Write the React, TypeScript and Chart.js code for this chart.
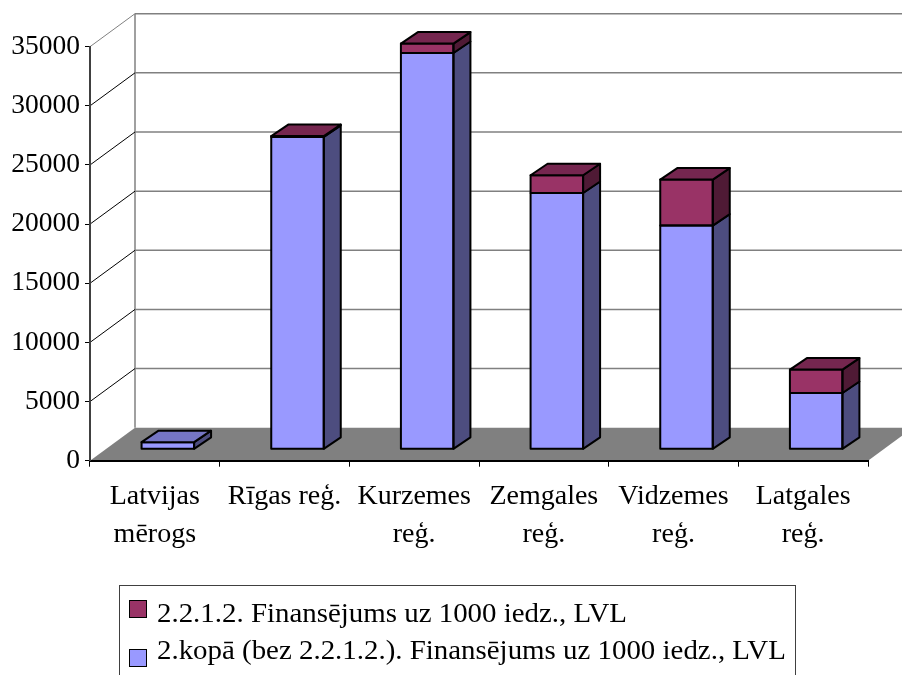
import React, { useEffect, useRef } from 'react';
import { Chart, registerables } from 'chart.js';
Chart.register(...registerables);

const categories: (string | string[])[] = [
  ['Latvijas', 'mērogs'],
  'Rīgas reģ.',
  ['Kurzemes', 'reģ.'],
  ['Zemgales', 'reģ.'],
  ['Vidzemes', 'reģ.'],
  ['Latgales', 'reģ.'],
];
const kopaValues = [600, 26400, 33500, 21670, 18910, 4760];
const finansValues = [0, 80, 800, 1500, 3890, 1980];
const yTicks = [0, 5000, 10000, 15000, 20000, 25000, 30000, 35000];
const finansLabel = '2.2.1.2. Finansējums uz 1000 iedz., LVL';
const kopaLabel = '2.kopā (bez 2.2.1.2.). Finansējums uz 1000 iedz., LVL';

const FONT = '"Liberation Serif", "Times New Roman", serif';
const KOPA_COL = { front: '#9999FF', side: '#4D4D7F', top: '#7575C4' };
const FIN_COL = { front: '#993366', side: '#4F1A35', top: '#75264F' };

const WALL_DX = 45;
const WALL_DY = -33;
const BAR_OFF_X = 13;
const BAR_OFF_Y = -11.4;
const BAR_DX = 17;
const BAR_DY = -11.5;

const threeD = {
  id: 'threeD',
  beforeDraw(chart: any) {
    const { ctx, chartArea: ca } = chart;
    const y = chart.scales.y;
    const y0 = y.getPixelForValue(0);
    const yTop = y.getPixelForValue(yTicks[yTicks.length - 1]);
    ctx.save();
    ctx.fillStyle = '#808080';
    ctx.beginPath();
    ctx.moveTo(ca.left, y0);
    ctx.lineTo(ca.right, y0);
    ctx.lineTo(ca.right + WALL_DX, y0 + WALL_DY);
    ctx.lineTo(ca.left + WALL_DX, y0 + WALL_DY);
    ctx.closePath();
    ctx.fill();
    ctx.strokeStyle = '#808080';
    ctx.lineWidth = 1.5;
    ctx.beginPath();
    ctx.moveTo(ca.left + WALL_DX, y0 + WALL_DY);
    ctx.lineTo(ca.left + WALL_DX, yTop + WALL_DY);
    ctx.stroke();
    yTicks.forEach((v) => {
      if (v === 0) return;
      const py = y.getPixelForValue(v);
      ctx.strokeStyle = '#808080';
      ctx.lineWidth = 1.5;
      ctx.beginPath();
      ctx.moveTo(ca.left + WALL_DX, py + WALL_DY);
      ctx.lineTo(chart.width + 10, py + WALL_DY);
      ctx.stroke();
      ctx.strokeStyle = v === yTicks[yTicks.length - 1] ? '#808080' : '#000';
      ctx.lineWidth = 1;
      ctx.beginPath();
      ctx.moveTo(ca.left, py);
      ctx.lineTo(ca.left + WALL_DX, py + WALL_DY);
      ctx.stroke();
    });
    ctx.restore();
  },
  beforeDatasetsDraw(chart: any) {
    chart.ctx.save();
    chart.ctx.translate(BAR_OFF_X, BAR_OFF_Y);
  },
  afterDatasetsDraw(chart: any) {
    const ctx = chart.ctx;
    const metaK = chart.getDatasetMeta(0);
    const metaF = chart.getDatasetMeta(1);
    ctx.lineWidth = 2;
    ctx.lineJoin = 'round';
    ctx.strokeStyle = '#000';
    categories.forEach((_, i) => {
      const segs = [
        { el: metaK.data[i], val: kopaValues[i], col: KOPA_COL },
        { el: metaF.data[i], val: finansValues[i], col: FIN_COL },
      ].filter((s) => s.val > 0);
      let last: any = null;
      segs.forEach((s) => {
        const p = s.el.getProps(['x', 'y', 'base', 'width'], true);
        const l = p.x - p.width / 2;
        const r = p.x + p.width / 2;
        const t = Math.min(p.y, p.base);
        const b = Math.max(p.y, p.base);
        ctx.fillStyle = s.col.side;
        ctx.beginPath();
        ctx.moveTo(r, t);
        ctx.lineTo(r + BAR_DX, t + BAR_DY);
        ctx.lineTo(r + BAR_DX, b + BAR_DY);
        ctx.lineTo(r, b);
        ctx.closePath();
        ctx.fill();
        ctx.stroke();
        ctx.strokeRect(l, t, r - l, b - t);
        last = { l, r, t, col: s.col };
      });
      if (last) {
        ctx.fillStyle = last.col.top;
        ctx.beginPath();
        ctx.moveTo(last.l, last.t);
        ctx.lineTo(last.l + BAR_DX, last.t + BAR_DY);
        ctx.lineTo(last.r + BAR_DX, last.t + BAR_DY);
        ctx.lineTo(last.r, last.t);
        ctx.closePath();
        ctx.fill();
        ctx.stroke();
      }
    });
    ctx.restore();
  },
  afterDraw(chart: any) {
    const ctx = chart.ctx;
    ctx.save();
    ctx.strokeStyle = '#404040';
    ctx.lineWidth = 1;
    ctx.strokeRect(119.5, 585.5, 676, 120);
    const items = [
      { label: finansLabel, col: FIN_COL.front, y: 600, base: 621.5 },
      { label: kopaLabel, col: KOPA_COL.front, y: 649, base: 658.5 },
    ];
    ctx.font = `27px ${FONT}`;
    ctx.textBaseline = 'alphabetic';
    ctx.textAlign = 'left';
    const w1 = ctx.measureText(finansLabel).width;
    const sx = w1 > 0 ? 470 / w1 : 1;
    items.forEach((it) => {
      ctx.fillStyle = it.col;
      ctx.fillRect(129.5, it.y + 0.5, 17, 17);
      ctx.strokeStyle = '#000';
      ctx.lineWidth = 1;
      ctx.strokeRect(129.5, it.y + 0.5, 17, 17);
      ctx.fillStyle = '#000';
      ctx.save();
      ctx.translate(157, it.base);
      ctx.scale(sx, 1);
      ctx.fillText(it.label, 0, 0);
      ctx.restore();
    });
    ctx.restore();
  },
};

export default function App() {
  const ref = useRef<HTMLCanvasElement>(null);
  useEffect(() => {
    if (!ref.current) return;
    const chart = new Chart(ref.current, {
      type: 'bar',
      data: {
        labels: categories as any,
        datasets: [
          {
            label: kopaLabel,
            data: kopaValues,
            backgroundColor: KOPA_COL.front,
            borderWidth: 0,
            barPercentage: 0.405,
            categoryPercentage: 1,
            clip: false as any,
          },
          {
            label: finansLabel,
            data: finansValues,
            backgroundColor: FIN_COL.front,
            borderWidth: 0,
            barPercentage: 0.405,
            categoryPercentage: 1,
            clip: false as any,
          },
        ],
      },
      options: {
        responsive: false,
        devicePixelRatio: 1,
        animation: false,
        layout: { padding: { top: 46.7, right: 34, left: 0, bottom: 0 } },
        plugins: { legend: { display: false }, tooltip: { enabled: false } },
        scales: {
          x: {
            stacked: true,
            offset: true,
            grid: { offset: true, drawOnChartArea: false, drawTicks: true, tickLength: 6, color: '#000', lineWidth: 1 },
            border: { display: true, color: '#000', width: 2 },
            ticks: {
              font: { family: FONT, size: 28, lineHeight: 38 / 28 },
              color: '#000',
              padding: 11,
              maxRotation: 0,
              autoSkip: false,
            },
            afterFit: (s: any) => {
              s.height = 675 - 460.7;
            },
          },
          y: {
            stacked: true,
            min: 0,
            max: 35000,
            ticks: {
              stepSize: 5000,
              font: { family: FONT, size: 27.5 },
              color: '#000',
              padding: 5,
              callback: (v: any) => String(v),
            },
            grid: { drawOnChartArea: false, drawTicks: true, tickLength: 5, color: '#000' },
            border: { display: true, color: '#404040', width: 2 },
            afterFit: (s: any) => {
              s.width = 90;
            },
          },
        },
      },
      plugins: [threeD],
    });
    return () => chart.destroy();
  }, []);
  return (
    <div style={{ position: 'absolute', left: 0, top: 0, width: 902, height: 675, background: '#fff' }}>
      <canvas ref={ref} width={902} height={675} style={{ display: 'block' }} />
    </div>
  );
}
